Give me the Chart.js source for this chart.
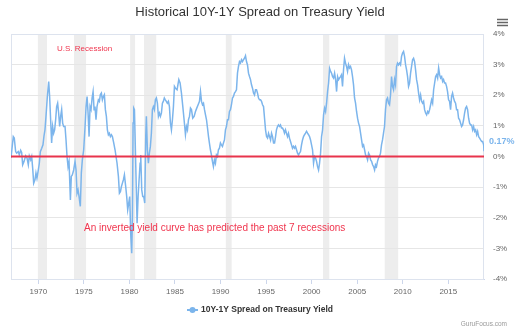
<!DOCTYPE html>
<html><head><meta charset="utf-8">
<script src="https://cdn.jsdelivr.net/npm/chart.js@4/dist/chart.umd.min.js"></script>
<style>html,body{margin:0;padding:0;background:#fff}#wrap{width:520px;height:334px;position:relative}</style>
</head><body><div id="wrap"><canvas id="c" width="520" height="334"></canvas></div>
<script>
const years = [
1967.00,1967.25,1967.36,1967.51,1967.62,1967.80,1967.91,1968.06,1968.17,1968.28,
1968.43,1968.61,1968.76,1968.90,1969.01,1969.16,1969.27,1969.38,1969.49,1969.63,
1969.74,1969.85,1970.00,1970.11,1970.22,1970.37,1970.51,1970.62,1970.73,1970.84,
1970.99,1971.14,1971.24,1971.35,1971.46,1971.57,1971.68,1971.79,1971.90,1972.01,
1972.12,1972.23,1972.34,1972.45,1972.56,1972.67,1972.78,1972.93,1973.04,1973.15,
1973.26,1973.37,1973.52,1973.62,1973.73,1973.88,1974.03,1974.14,1974.25,1974.36,
1974.47,1974.61,1974.72,1974.83,1974.98,1975.13,1975.24,1975.35,1975.46,1975.57,
1975.68,1975.79,1975.90,1976.01,1976.12,1976.22,1976.33,1976.44,1976.59,1976.70,
1976.81,1976.92,1977.03,1977.14,1977.25,1977.36,1977.47,1977.58,1977.69,1977.80,
1977.91,1978.02,1978.13,1978.28,1978.42,1978.53,1978.64,1978.79,1978.90,1979.01,
1979.12,1979.23,1979.34,1979.45,1979.59,1979.70,1979.81,1979.92,1980.03,1980.14,
1980.25,1980.33,1980.40,1980.47,1980.55,1980.62,1980.73,1980.84,1980.95,1981.06,
1981.17,1981.24,1981.35,1981.46,1981.57,1981.68,1981.79,1981.86,1981.97,1982.08,
1982.19,1982.30,1982.41,1982.52,1982.63,1982.74,1982.85,1982.96,1983.07,1983.18,
1983.29,1983.40,1983.51,1983.62,1983.72,1983.83,1983.94,1984.05,1984.16,1984.28,
1984.39,1984.50,1984.61,1984.72,1984.83,1984.94,1985.05,1985.23,1985.42,1985.56,
1985.71,1985.86,1986.00,1986.15,1986.26,1986.37,1986.48,1986.59,1986.70,1986.81,
1986.95,1987.10,1987.25,1987.39,1987.54,1987.69,1987.80,1987.91,1988.02,1988.13,
1988.24,1988.35,1988.46,1988.57,1988.68,1988.78,1988.89,1989.00,1989.11,1989.22,
1989.33,1989.44,1989.55,1989.66,1989.77,1989.88,1989.99,1990.10,1990.21,1990.32,
1990.43,1990.54,1990.65,1990.76,1990.87,1990.98,1991.09,1991.20,1991.31,1991.42,
1991.53,1991.64,1991.75,1991.86,1991.97,1992.08,1992.19,1992.30,1992.41,1992.52,
1992.63,1992.74,1992.85,1992.96,1993.07,1993.18,1993.29,1993.40,1993.51,1993.62,
1993.73,1993.84,1993.95,1994.06,1994.17,1994.28,1994.39,1994.50,1994.61,1994.72,
1994.83,1994.94,1995.05,1995.16,1995.27,1995.38,1995.49,1995.60,1995.71,1995.82,
1995.93,1996.04,1996.14,1996.25,1996.36,1996.47,1996.58,1996.69,1996.80,1996.91,
1997.02,1997.13,1997.24,1997.35,1997.46,1997.57,1997.68,1997.79,1997.90,1998.01,
1998.12,1998.23,1998.34,1998.45,1998.56,1998.67,1998.78,1998.89,1999.00,1999.11,
1999.22,1999.33,1999.44,1999.55,1999.66,1999.77,1999.88,1999.99,2000.10,2000.21,
2000.32,2000.43,2000.54,2000.65,2000.76,2000.87,2000.98,2001.09,2001.20,2001.31,
2001.42,2001.53,2001.64,2001.75,2001.86,2001.97,2002.08,2002.19,2002.30,2002.41,
2002.52,2002.63,2002.74,2002.85,2002.96,2003.06,2003.17,2003.28,2003.39,2003.50,
2003.61,2003.72,2003.83,2003.94,2004.05,2004.16,2004.27,2004.38,2004.49,2004.60,
2004.71,2004.82,2004.93,2005.04,2005.15,2005.26,2005.37,2005.48,2005.59,2005.70,
2005.81,2005.92,2006.03,2006.14,2006.25,2006.36,2006.47,2006.58,2006.69,2006.80,
2006.91,2007.01,2007.12,2007.23,2007.34,2007.45,2007.56,2007.67,2007.78,2007.89,
2008.00,2008.11,2008.22,2008.33,2008.44,2008.55,2008.66,2008.77,2008.88,2008.99,
2009.10,2009.21,2009.32,2009.43,2009.54,2009.65,2009.76,2009.87,2009.98,2010.09,
2010.20,2010.31,2010.42,2010.53,2010.64,2010.75,2010.86,2010.97,2011.08,2011.19,
2011.30,2011.41,2011.52,2011.63,2011.74,2011.85,2011.96,2012.07,2012.18,2012.29,
2012.40,2012.51,2012.62,2012.73,2012.84,2012.95,2013.06,2013.17,2013.28,2013.39,
2013.50,2013.61,2013.72,2013.83,2013.94,2014.05,2014.16,2014.27,2014.38,2014.48,
2014.59,2014.70,2014.81,2014.92,2015.03,2015.14,2015.25,2015.36,2015.47,2015.58,
2015.69,2015.80,2015.91,2016.02,2016.13,2016.24,2016.35,2016.46,2016.57,2016.68,
2016.79,2016.90,2017.01,2017.12,2017.23,2017.34,2017.45,2017.56,2017.67,2017.78,
2017.89,2018.00,2018.11,2018.22,2018.33,2018.44,2018.55,2018.66,2018.77,2018.88,
2018.92
];
const spreads = [
-0.05,0.65,0.60,0.16,0.11,0.16,0.05,0.20,0.13,-0.27,
-0.16,0.02,-0.05,-0.27,0.02,-0.11,0.00,-0.38,-0.87,-0.76,
-0.54,-0.71,-0.44,-0.22,0.16,0.27,0.38,0.67,0.87,1.31,
1.96,2.45,1.96,1.20,0.44,0.98,0.76,0.87,1.20,1.63,
1.74,1.42,0.98,1.31,1.53,1.09,0.98,0.98,0.54,0.00,
-0.33,-0.16,-1.42,-0.65,-0.60,-0.44,-0.16,-0.44,-1.20,-1.09,
-1.31,-1.63,-0.54,-0.11,0.22,0.98,1.63,1.96,1.42,0.65,
1.63,1.53,1.91,2.12,1.53,1.63,1.20,1.63,1.85,1.80,
2.02,2.07,1.85,1.96,2.02,1.53,1.31,0.87,0.71,0.76,
0.65,0.71,0.65,0.44,0.22,0.00,-0.22,-0.65,-1.20,-1.15,
-0.98,-0.87,-0.76,-0.60,-0.98,-1.31,-1.74,-1.53,-1.31,-2.51,
-3.16,-1.96,1.09,1.58,1.53,0.65,-0.76,-2.18,-1.31,-0.76,
-0.22,0.05,-1.09,-1.31,-1.31,-1.52,0.65,1.31,0.22,-0.22,
0.11,0.33,0.76,1.53,1.63,1.53,1.85,1.91,1.74,1.31,
1.42,1.31,1.42,1.74,1.80,1.91,1.85,1.80,1.74,1.80,
1.63,1.09,0.87,1.20,1.63,2.29,2.23,2.18,2.51,2.40,
2.07,1.63,1.20,0.71,0.98,0.87,1.20,1.31,1.58,1.53,
1.25,1.31,1.47,1.58,1.69,1.80,2.12,1.80,1.69,1.74,
1.53,1.36,1.20,0.93,0.65,0.44,0.22,0.05,-0.16,-0.33,
-0.11,-0.22,0.05,0.00,0.22,0.27,0.44,0.38,0.33,0.44,
0.54,0.87,0.98,1.20,1.20,1.47,1.53,1.69,1.91,1.96,
2.07,2.12,2.18,2.72,2.94,3.10,3.05,3.16,3.10,3.16,
3.21,3.29,3.10,2.99,2.72,2.61,2.51,2.34,2.23,2.07,
2.01,2.18,2.18,2.07,1.91,1.85,1.85,1.80,1.69,1.63,
1.25,0.87,0.65,0.60,0.76,0.65,0.54,0.76,0.65,0.44,
0.44,0.65,0.87,0.98,1.03,0.98,1.03,0.93,0.93,0.87,
0.76,0.87,0.76,0.65,0.76,0.60,0.49,0.38,0.27,0.33,
0.27,0.33,0.22,0.11,0.05,0.11,0.16,0.38,0.54,0.65,
0.71,0.76,0.82,0.76,0.71,0.65,0.54,0.38,0.22,-0.22,
0.00,-0.05,-0.16,-0.33,-0.44,-0.22,0.11,0.65,0.87,1.36,
1.58,1.47,1.74,2.12,2.40,2.88,2.78,2.72,2.61,2.56,
2.72,2.51,2.12,2.61,2.51,2.56,2.61,2.67,2.29,2.83,
3.21,3.05,2.94,2.78,3.00,2.89,2.94,2.83,2.61,2.34,
1.91,1.74,1.47,1.25,1.09,0.98,0.76,0.54,0.33,0.38,
0.22,0.05,0.00,-0.11,0.11,0.05,-0.11,-0.16,-0.27,-0.33,
-0.44,-0.27,-0.33,-0.16,-0.05,0.00,0.11,0.38,0.54,0.76,
0.98,1.53,1.85,1.91,1.74,1.69,2.01,2.61,2.29,2.18,
2.51,2.34,2.94,3.05,2.99,3.05,2.99,3.27,3.38,3.43,
3.27,3.00,2.83,2.61,2.29,2.40,2.72,2.94,3.16,3.21,
3.10,2.83,2.51,2.34,2.07,1.85,2.01,1.80,1.74,1.80,
1.53,1.42,1.36,1.47,1.42,1.53,1.69,1.85,1.74,2.18,
2.40,2.61,2.67,2.56,2.89,2.67,2.56,2.61,2.45,2.51,
2.40,2.40,2.29,2.12,1.85,1.80,1.53,1.96,2.07,1.91,
1.80,1.74,1.53,1.53,1.25,1.20,1.09,0.98,1.03,1.20,
1.42,1.58,1.63,1.53,1.25,1.09,1.03,1.03,0.87,0.98,
0.82,0.87,0.71,0.82,0.65,0.60,0.54,0.49,0.49,0.38,
0.17
];
const recessionStarts = [1969.95, 1973.92, 1980.08, 1981.60, 1990.58, 2001.25, 2008.02];
const recessionEnds   = [1970.95, 1975.24, 1980.62, 1982.94, 1991.22, 2001.94, 2009.50];
const xTickYears = [1970, 1975, 1980, 1985, 1990, 1995, 2000, 2005, 2010, 2015];
const yTickValues = [-4, -3, -2, -1, 0, 1, 2, 3, 4];

const titleText = 'Historical 10Y-1Y Spread on Treasury Yield';
const seriesName = '10Y-1Y Spread on Treasury Yield';
const recessionNote = 'U.S. Recession';
const inversionNote = 'An inverted yield curve has predicted the past 7 recessions';
const creditText = 'GuruFocus.com';

const FONT = "'Liberation Sans', Arial, sans-serif";
const RED = '#f0354e';
const BLUE = '#7cb5ec';

const decor = {
  id: 'decor',
  beforeDraw(chart) {
    const {ctx, chartArea: a, scales: {x}} = chart;
    ctx.save();
    ctx.fillStyle = '#ededed';
    recessionStarts.forEach((s, i) => {
      const x0 = x.getPixelForValue(s), x1 = x.getPixelForValue(recessionEnds[i]);
      ctx.fillRect(x0, a.top, x1 - x0, a.bottom - a.top);
    });
    ctx.restore();
  },
  beforeDatasetsDraw(chart) {
    const {ctx, chartArea: a} = chart;
    ctx.save();
    ctx.strokeStyle = '#dde3ee';
    ctx.lineWidth = 1;
    ctx.strokeRect(a.left + 0.5, a.top + 0.5, a.right - a.left - 1, a.bottom - a.top);
    ctx.restore();
  },
  afterDatasetsDraw(chart) {
    const {ctx, chartArea: a, scales: {x, y}} = chart;
    ctx.save();
    // zero line
    const y0 = y.getPixelForValue(0);
    ctx.strokeStyle = '#e8344c';
    ctx.lineWidth = 2;
    ctx.beginPath(); ctx.moveTo(a.left, y0); ctx.lineTo(a.right, y0); ctx.stroke();
    // annotations
    ctx.fillStyle = RED;
    ctx.textBaseline = 'middle';
    ctx.textAlign = 'left';
    ctx.font = '8px ' + FONT;
    ctx.fillText(recessionNote, 57, 49);
    ctx.font = '10px ' + FONT;
    ctx.fillText(inversionNote, 84, 228);
    // end value label
    const lastX = x.getPixelForValue(years[years.length - 1]);
    const lastV = spreads[spreads.length - 1];
    const lastY = y.getPixelForValue(lastV);
    ctx.font = 'bold 9px ' + FONT;
    ctx.lineWidth = 2; ctx.strokeStyle = '#fff';
    const lbl = lastV.toFixed(2) + '%';
    ctx.strokeText(lbl, lastX + 5, lastY - 9.5);
    ctx.fillStyle = BLUE;
    ctx.fillText(lbl, lastX + 5, lastY - 9.5);
    ctx.restore();
  },
  afterDraw(chart) {
    const {ctx} = chart;
    ctx.save();
    // title
    ctx.fillStyle = '#333333';
    ctx.font = '13px ' + FONT;
    ctx.textAlign = 'center';
    ctx.textBaseline = 'alphabetic';
    ctx.fillText(titleText, 260, 16);
    // menu icon
    ctx.strokeStyle = '#666';
    ctx.lineWidth = 1.5;
    [19.5, 22.5, 25.5].forEach(yy => { ctx.beginPath(); ctx.moveTo(497, yy); ctx.lineTo(508, yy); ctx.stroke(); });
    // legend
    ctx.font = 'bold 8.5px ' + FONT;
    ctx.textAlign = 'left';
    ctx.textBaseline = 'middle';
    const tw = ctx.measureText(seriesName).width;
    const total = 14 + tw;
    const lx = 260 - total / 2;
    ctx.strokeStyle = BLUE; ctx.lineWidth = 2;
    ctx.beginPath(); ctx.moveTo(lx, 310); ctx.lineTo(lx + 11, 310); ctx.stroke();
    ctx.fillStyle = BLUE;
    ctx.beginPath(); ctx.arc(lx + 5.5, 310, 3, 0, Math.PI * 2); ctx.fill();
    ctx.fillStyle = '#333333';
    ctx.fillText(seriesName, lx + 14, 310);
    // credits
    ctx.font = '6.5px ' + FONT;
    ctx.fillStyle = '#999999';
    ctx.textAlign = 'right';
    ctx.fillText(creditText, 507, 324);
    ctx.restore();
  }
};

new Chart(document.getElementById('c').getContext('2d'), {
  type: 'line',
  data: {
    datasets: [{
      label: seriesName,
      data: years.map((yr, i) => ({x: yr, y: spreads[i]})),
      borderColor: BLUE,
      borderWidth: 1.5,
      pointRadius: 0,
      tension: 0,
      fill: false
    }]
  },
  options: {
    responsive: false,
    animation: false,
    layout: {padding: {left: 11, right: 0, top: 34, bottom: 0}},
    plugins: {legend: {display: false}, title: {display: false}, tooltip: {enabled: false}},
    scales: {
      x: {
        type: 'linear',
        min: 1967,
        max: years[years.length - 1],
        afterBuildTicks: s => { s.ticks = xTickYears.map(v => ({value: v})); },
        afterFit: s => { s.height = 55; },
        grid: {drawOnChartArea: false, drawTicks: true, tickLength: 5, color: '#ccd6eb'},
        border: {color: '#ccd6eb'},
        ticks: {color: '#666666', font: {size: 8, family: FONT}, padding: 3, maxRotation: 0, autoSkip: false, callback: v => String(v)}
      },
      y: {
        position: 'right',
        min: -4,
        max: 4,
        afterBuildTicks: s => { s.ticks = yTickValues.map(v => ({value: v})); },
        afterFit: s => { s.width = 36; },
        grid: {color: '#e6e6e6', drawTicks: false},
        border: {display: false},
        ticks: {color: '#666666', font: {size: 8, family: FONT}, padding: 9, callback: v => v + '%'}
      }
    }
  },
  plugins: [decor]
});
</script>
</body></html>
